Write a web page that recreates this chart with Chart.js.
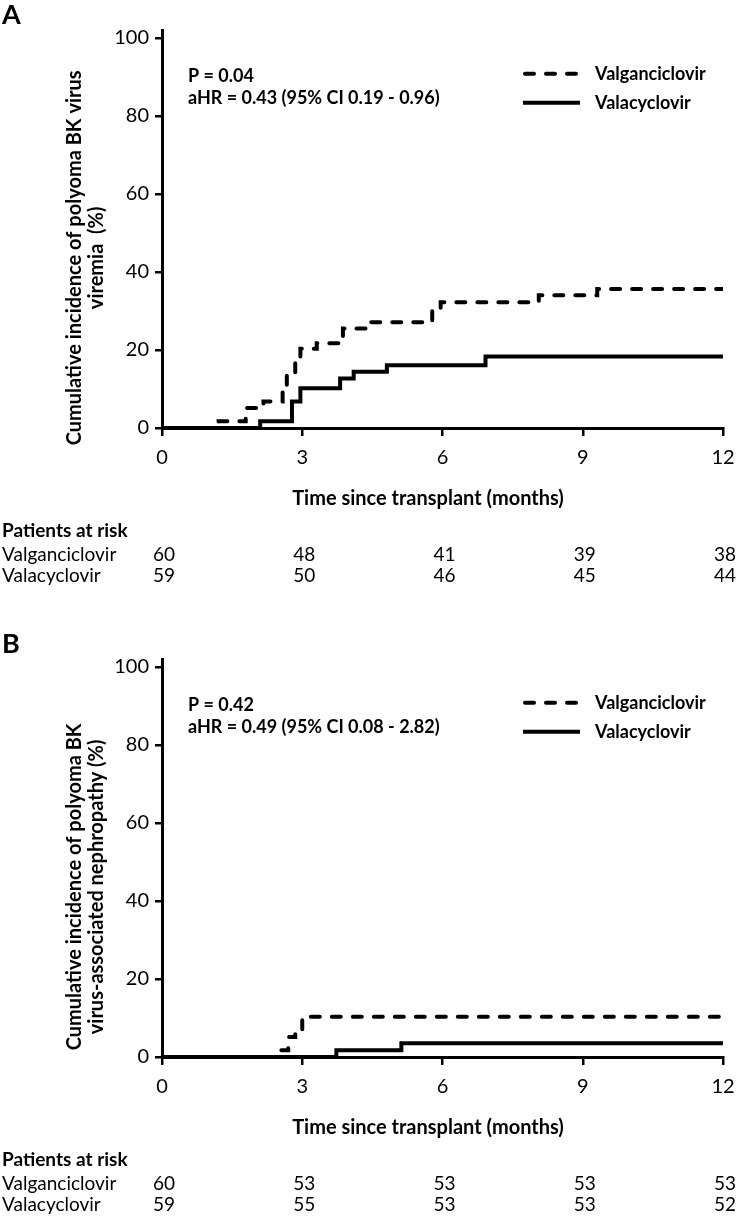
<!DOCTYPE html>
<html>
<head>
<meta charset="utf-8">
<script src="https://cdn.jsdelivr.net/npm/chart.js@4.4.1/dist/chart.umd.min.js"></script>
<style>
body{margin:0;background:#fff;}
.panel{position:absolute;left:0;width:738px;height:609px;}
</style>
</head>
<body>
<div class="panel" style="top:0"><canvas id="chartA" width="738" height="609"></canvas></div>
<div class="panel" style="top:609px"><canvas id="chartB" width="738" height="609"></canvas></div>
<script>
// tick labels
var xTicks = [0, 3, 6, 9, 12];
var yTicks = [0, 20, 40, 60, 80, 100];
var seriesNames = ["Valganciclovir", "Valacyclovir"];

// panel A - BK viremia (months, cumulative %)
var valganA_t = [0, 1.21, 1.79, 2.17, 2.58, 2.67, 2.85, 2.96, 3.31, 3.87, 4.4, 5.78, 5.96, 8.06, 9.31, 12];
var valganA_v = [0, 1.7, 5.1, 6.8, 10.2, 13.4, 17.0, 20.3, 21.7, 25.5, 27.1, 30.5, 32.2, 34.0, 35.6, 35.6];
var valacA_t = [0, 2.1, 2.78, 2.96, 3.81, 4.1, 4.81, 6.92, 12];
var valacA_v = [0, 1.7, 6.8, 10.2, 12.7, 14.4, 16.1, 18.3, 18.3];
var riskValganA = [60, 48, 41, 39, 38];
var riskValacA = [59, 50, 46, 45, 44];

// panel B - BK nephropathy
var valganB_t = [0, 2.45, 2.7, 2.85, 3.0, 12];
var valganB_v = [0, 1.7, 5.1, 6.8, 10.3, 10.3];
var valacB_t = [0, 3.73, 5.12, 12];
var valacB_v = [0, 1.7, 3.5, 3.5];
var riskValganB = [60, 53, 53, 53, 53];
var riskValacB = [59, 55, 53, 53, 52];

var FONT = "Lato, 'Open Sans', sans-serif";

function toPoints(t, v){
	var pts = [];
	for (var i=0; i<t.length; i++){
		pts.push({x: t[i], y: v[i]});
	}
	return pts;
}

function makePanel(id, o){
	var plotTop = o.top, plotBottom = o.bottom;
	new Chart(document.getElementById(id), {
		type: "line",
		data: {
			datasets: [{
				label: seriesNames[0],
				data: toPoints(o.valganT, o.valganV),
				borderColor: "#000",
				borderWidth: 4,
				borderDash: [9, 12],
				borderCapStyle: "round",
				stepped: true,
				pointRadius: 0,
				fill: false
			},{
				label: seriesNames[1],
				data: toPoints(o.valacT, o.valacV),
				borderColor: "#000",
				borderWidth: 4,
				borderCapStyle: "butt",
				stepped: true,
				pointRadius: 0,
				fill: false
			}]
		},
		options: {
			responsive: false,
			animation: false,
			devicePixelRatio: 1,
			layout: {padding: {top: plotTop, right: 15, left: 0, bottom: 0}},
			plugins: {legend: {display: false}, tooltip: {enabled: false}},
			scales: {
				x: {
					type: "linear", min: 0, max: 12,
					afterBuildTicks: function(s){ s.ticks = xTicks.map(function(v){ return {value: v}; }); },
					ticks: {font: {family: FONT, size: 20}, color: "#000", padding: 10, maxRotation: 0},
					grid: {drawOnChartArea: false, drawTicks: true, tickLength: 8, color: "#000", lineWidth: 2.5},
					border: {display: true, color: "#000", width: 3},
					afterFit: function(s){ s.height = 609 - plotBottom; s.paddingLeft = 0; s.paddingRight = 0; }
				},
				y: {
					min: 0, max: 102,
					afterBuildTicks: function(s){ s.ticks = yTicks.map(function(v){ return {value: v}; }); },
					ticks: {font: {family: FONT, size: 20}, color: "#000", padding: 6},
					grid: {drawOnChartArea: false, drawTicks: true, tickLength: 7, color: "#000", lineWidth: 2.5},
					border: {display: true, color: "#000", width: 3},
					afterFit: function(s){ s.width = 162; s.paddingTop = 0; s.paddingBottom = 0; }
				}
			}
		},
		plugins: [{
			id: "extras",
			afterDraw: function(chart){
				var ctx = chart.ctx, area = chart.chartArea, xs = chart.scales.x, ys = chart.scales.y;
				var y100 = ys.getPixelForValue(100), y0 = ys.getPixelForValue(0);
				ctx.save();
				ctx.fillStyle = "#000";
				ctx.textBaseline = "middle";
				// panel letter
				ctx.font = "bold 27px " + FONT;
				ctx.textAlign = "left";
				ctx.fillText(o.letter, 2, y100 - 23);
				// y title
				ctx.save();
				ctx.translate(75, (y100 + y0) / 2 + 25);
				ctx.rotate(-Math.PI / 2);
				ctx.textAlign = "center";
				ctx.font = "bold 20px " + FONT;
				ctx.fillText(o.yTitle[0], 0, 0);
				ctx.fillText(o.yTitle[1], 0, 22);
				ctx.restore();
				// stats
				ctx.font = "bold 18px " + FONT;
				ctx.fillText(o.stats[0], 188, y100 + 38);
				ctx.fillText(o.stats[1], 188, y100 + 60);
				// legend
				var ds = chart.data.datasets;
				for (var i=0; i<ds.length; i++){
					var ly = y100 + 36 + i*29;
					ctx.beginPath();
					ctx.lineWidth = ds[i].borderWidth;
					ctx.strokeStyle = ds[i].borderColor;
					ctx.lineCap = ds[i].borderCapStyle;
					ctx.setLineDash(ds[i].borderDash || []);
					ctx.moveTo(ds[i].borderDash ? 525 : 523, ly);
					ctx.lineTo(ds[i].borderDash ? 578 : 580, ly);
					ctx.stroke();
					ctx.setLineDash([]);
					ctx.font = "bold 18px " + FONT;
					ctx.fillText(ds[i].label, 595, ly);
				}
				// x title
				ctx.textAlign = "center";
				ctx.font = "bold 20px " + FONT;
				ctx.fillText("Time since transplant (months)", 428, y0 + 71);
				// patients at risk
				ctx.textAlign = "left";
				ctx.font = "bold 19px " + FONT;
				ctx.fillText("Patients at risk", 2, y0 + 103);
				ctx.font = "19px " + FONT;
				ctx.fillText(seriesNames[0], 2, y0 + 127);
				ctx.fillText(seriesNames[1], 2, y0 + 148);
				ctx.textAlign = "center";
				for (var k=0; k<xTicks.length; k++){
					var px = xs.getPixelForValue(xTicks[k]);
					ctx.fillText(String(o.riskValgan[k]), Math.min(px + 2, 725), y0 + 127);
					ctx.fillText(String(o.riskValac[k]), Math.min(px + 2, 725), y0 + 148);
				}
				ctx.restore();
			}
		}]
	});
}

makePanel("chartA", {
	letter: "A", top: 30, bottom: 428,
	valganT: valganA_t, valganV: valganA_v, valacT: valacA_t, valacV: valacA_v,
	riskValgan: riskValganA, riskValac: riskValacA,
	yTitle: ["Cumulative incidence of polyoma BK virus", "viremia  (%)"],
	stats: ["P = 0.04", "aHR = 0.43 (95% CI 0.19 - 0.96)"]
});
makePanel("chartB", {
	letter: "B", top: 50, bottom: 448,
	valganT: valganB_t, valganV: valganB_v, valacT: valacB_t, valacV: valacB_v,
	riskValgan: riskValganB, riskValac: riskValacB,
	yTitle: ["Cumulative incidence of polyoma BK", "virus-associated nephropathy (%)"],
	stats: ["P = 0.42", "aHR = 0.49 (95% CI 0.08 - 2.82)"]
});
</script>
</body>
</html>
